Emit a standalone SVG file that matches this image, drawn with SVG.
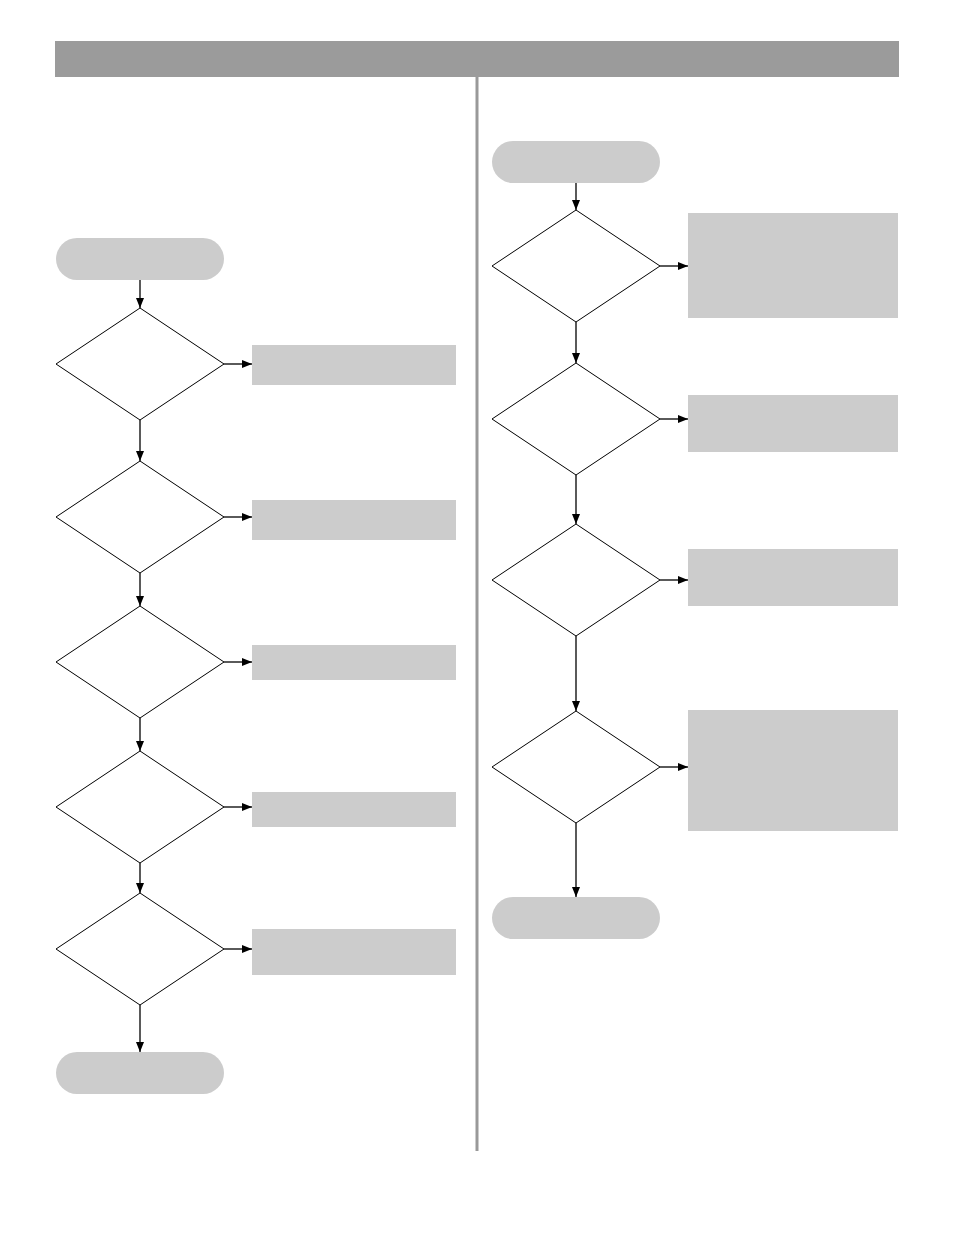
<svg xmlns="http://www.w3.org/2000/svg" width="954" height="1235" viewBox="0 0 954 1235">
<style>
.t{fill:#cccccc}
.b{fill:#cccccc}
.d{fill:#fff;stroke:#000;stroke-width:1}
.c{stroke:#000;stroke-width:1.3;fill:none;marker-end:url(#a)}
</style>
<defs><marker id="a" markerWidth="10" markerHeight="8" refX="10" refY="4" orient="auto" markerUnits="userSpaceOnUse"><path d="M0,0L10,4L0,8Z" fill="#000"/></marker></defs>
<rect width="954" height="1235" fill="#fff"/>
<rect x="55" y="41" width="844" height="36" fill="#9b9b9b"/>
<line x1="477" y1="77" x2="477" y2="1151" stroke="#999" stroke-width="3"/>
<g id="connectors">
<line class="c" x1="140" y1="280" x2="140" y2="308"/>
<line class="c" x1="140" y1="420" x2="140" y2="461"/>
<line class="c" x1="140" y1="573" x2="140" y2="606"/>
<line class="c" x1="140" y1="718" x2="140" y2="751"/>
<line class="c" x1="140" y1="863" x2="140" y2="893"/>
<line class="c" x1="140" y1="1005" x2="140" y2="1052"/>
<line class="c" x1="224" y1="364" x2="252" y2="364"/>
<line class="c" x1="224" y1="517" x2="252" y2="517"/>
<line class="c" x1="224" y1="662" x2="252" y2="662"/>
<line class="c" x1="224" y1="807" x2="252" y2="807"/>
<line class="c" x1="224" y1="949" x2="252" y2="949"/>
<line class="c" x1="576" y1="183" x2="576" y2="210"/>
<line class="c" x1="576" y1="322" x2="576" y2="363"/>
<line class="c" x1="576" y1="475" x2="576" y2="524"/>
<line class="c" x1="576" y1="636" x2="576" y2="711"/>
<line class="c" x1="576" y1="823" x2="576" y2="897"/>
<line class="c" x1="660" y1="266" x2="688" y2="266"/>
<line class="c" x1="660" y1="419" x2="688" y2="419"/>
<line class="c" x1="660" y1="580" x2="688" y2="580"/>
<line class="c" x1="660" y1="767" x2="688" y2="767"/>
</g>
<g id="L-start"><rect class="t" x="56" y="238" width="168" height="42" rx="21"/></g>
<g id="L-d1"><path class="d" d="M140,308L224,364L140,420L56,364Z"/></g>
<g id="L-d2"><path class="d" d="M140,461L224,517L140,573L56,517Z"/></g>
<g id="L-d3"><path class="d" d="M140,606L224,662L140,718L56,662Z"/></g>
<g id="L-d4"><path class="d" d="M140,751L224,807L140,863L56,807Z"/></g>
<g id="L-d5"><path class="d" d="M140,893L224,949L140,1005L56,949Z"/></g>
<g id="L-end"><rect class="t" x="56" y="1052" width="168" height="42" rx="21"/></g>
<g id="L-b1"><rect class="b" x="252" y="345" width="204" height="40"/></g>
<g id="L-b2"><rect class="b" x="252" y="500" width="204" height="40"/></g>
<g id="L-b3"><rect class="b" x="252" y="645" width="204" height="35"/></g>
<g id="L-b4"><rect class="b" x="252" y="792" width="204" height="35"/></g>
<g id="L-b5"><rect class="b" x="252" y="929" width="204" height="46"/></g>
<g id="R-start"><rect class="t" x="492" y="141" width="168" height="42" rx="21"/></g>
<g id="R-d1"><path class="d" d="M576,210L660,266L576,322L492,266Z"/></g>
<g id="R-d2"><path class="d" d="M576,363L660,419L576,475L492,419Z"/></g>
<g id="R-d3"><path class="d" d="M576,524L660,580L576,636L492,580Z"/></g>
<g id="R-d4"><path class="d" d="M576,711L660,767L576,823L492,767Z"/></g>
<g id="R-end"><rect class="t" x="492" y="897" width="168" height="42" rx="21"/></g>
<g id="R-b1"><rect class="b" x="688" y="213" width="210" height="105"/></g>
<g id="R-b2"><rect class="b" x="688" y="395" width="210" height="57"/></g>
<g id="R-b3"><rect class="b" x="688" y="549" width="210" height="57"/></g>
<g id="R-b4"><rect class="b" x="688" y="710" width="210" height="121"/></g>
</svg>
